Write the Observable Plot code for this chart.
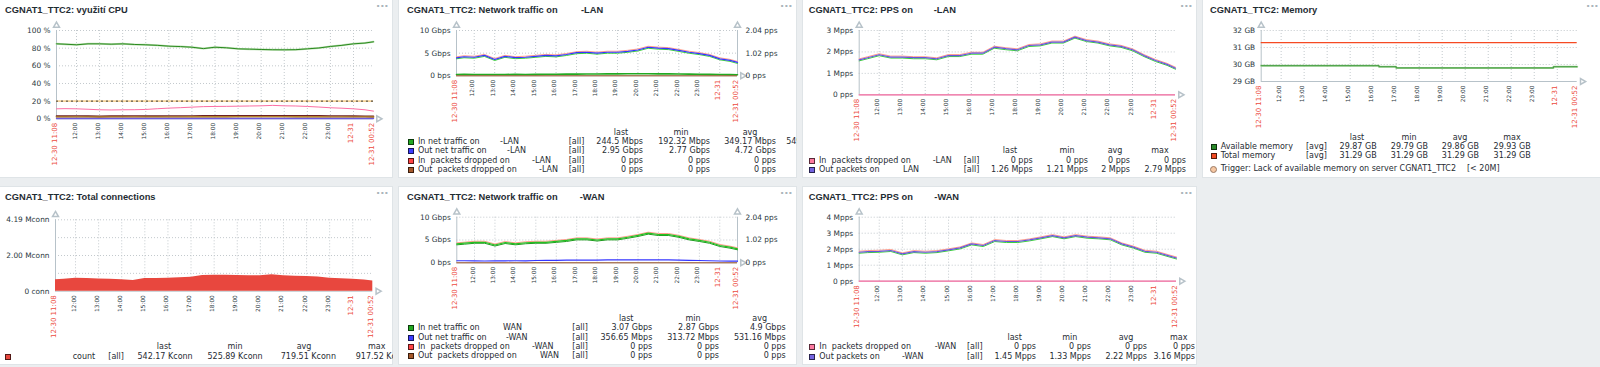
<!DOCTYPE html>
<html><head><meta charset="utf-8">
<script src="https://cdn.jsdelivr.net/npm/d3@7"></script>
<script src="https://cdn.jsdelivr.net/npm/@observablehq/plot@0.6"></script>
<style>
html,body{margin:0;padding:0;}
body{width:1600px;height:367px;background:#ebeef0;position:relative;overflow:hidden;font-family:"DejaVu Sans",sans-serif;}
.panel{position:absolute;background:#fff;overflow:hidden;box-shadow:inset 0 0 0 1px #dfe4e7;}
.panel svg{position:absolute;left:0;top:0;}
.t{position:absolute;white-space:pre;line-height:10px;height:10px;color:#1f2c33;z-index:2;}
.title{position:absolute;font-family:"Liberation Sans",Arial,sans-serif;font-weight:bold;font-size:9.3px;color:#1f2c33;white-space:pre;line-height:12px;z-index:2;}
.dots{position:absolute;font-size:11px;font-weight:bold;color:#aab4bb;line-height:10px;z-index:2;}
.sq{position:absolute;width:6px;height:6px;box-sizing:border-box;border:1px solid rgba(0,0,0,0.65);z-index:2;}
.circ{position:absolute;width:7px;height:7px;box-sizing:border-box;border:1px solid #9a7a64;border-radius:50%;background:#f6c7a2;z-index:2;}
</style></head><body>
<script>
// ---------------- DATA ----------------
const sampleTimes = ["12-30 11:08","12-30 11:30","12-30 12:00","12-30 12:30","12-30 13:00","12-30 13:30","12-30 14:00","12-30 14:30","12-30 15:00","12-30 15:30","12-30 16:00","12-30 16:30","12-30 17:00","12-30 17:30","12-30 18:00","12-30 18:30","12-30 19:00","12-30 19:30","12-30 20:00","12-30 20:30","12-30 21:00","12-30 21:30","12-30 22:00","12-30 22:30","12-30 23:00","12-30 23:30","12-31 00:00","12-31 00:30","12-31 00:52"];
const hourTicks = ["12-30 12:00","12-30 13:00","12-30 14:00","12-30 15:00","12-30 16:00","12-30 17:00","12-30 18:00","12-30 19:00","12-30 20:00","12-30 21:00","12-30 22:00","12-30 23:00","12-31 00:00"];
const hourLabels = ["12:00","13:00","14:00","15:00","16:00","17:00","18:00","19:00","20:00","21:00","22:00","23:00"];
const redTicks = ["12-30 11:08","12-31 00:00","12-31 00:52"];
const redLabels = ["12-30 11:08","12-31","12-31 00:52"];

// CPU (%)
const cpuIdle   = [84.9,84.5,83.8,84.9,84.9,84.5,84.9,84.2,83.8,83.2,82.3,81.8,81.1,79.5,81.1,80.4,79.2,78.9,78.5,78.2,78.1,78.3,79.2,80.2,81.9,83.2,84.9,85.8,87.2];
const cpuUser   = [11.3,11.5,11.3,10.8,10.2,10.0,10.2,10.3,10.6,11.4,12.1,12.6,13.2,13.8,14.0,14.1,14.3,14.5,14.7,15.2,14.7,14.5,14.0,13.3,12.5,12.0,11.3,10.2,8.7];
const cpuSystem = [3.0,3.0,3.1,3.0,2.9,3.0,3.0,3.1,3.0,3.0,3.1,3.2,3.2,3.3,3.3,3.3,3.4,3.4,3.4,3.5,3.4,3.4,3.3,3.3,3.2,3.1,3.0,2.9,2.8];
const cpuNice   = [2.0,2.0,2.1,2.0,1.9,2.0,2.0,2.1,2.0,2.0,2.1,2.1,2.2,2.2,2.2,2.2,2.3,2.3,2.3,2.3,2.3,2.2,2.2,2.2,2.1,2.1,2.0,2.0,1.9];
const cpuSteal  = [0.3,0.3,0.3,0.3,0.3,0.3,0.3,0.3,0.3,0.3,0.3,0.3,0.3,0.3,0.3,0.3,0.3,0.3,0.3,0.3,0.3,0.3,0.3,0.3,0.3,0.3,0.3,0.3,0.3];
const cpuTrigger = 20;
const cpuTicks = [0,20,40,60,80,100];
const cpuTickLabels = ["0 %","20 %","40 %","60 %","80 %","100 %"];

// LAN traffic (Gbps)
const lanOut = [3.97,4.2,4.1,4.5,3.6,4.3,4.0,4.1,4.3,4.5,4.4,4.7,5.1,5.2,5.0,5.2,5.2,5.4,5.7,6.3,6.1,6.0,5.6,5.2,4.9,4.5,3.75,3.4,2.95];
const lanIn  = [0.30,0.31,0.29,0.30,0.28,0.30,0.31,0.30,0.32,0.33,0.34,0.36,0.38,0.40,0.41,0.42,0.43,0.44,0.44,0.45,0.43,0.42,0.40,0.37,0.34,0.31,0.28,0.26,0.24];
const lanDropped = 0;
const trafficTicks = [0,5,10];
const trafficTickLabels = ["0 bps","5 Gbps","10 Gbps"];
const trafficRightLabels = ["0 pps","1.02 pps","2.04 pps"];
const lanNames = ["In net traffic on","Out net traffic on","In  packets dropped on","Out  packets dropped on"];
const lanSuffix = ["-LAN","-LAN","-LAN","-LAN"];
const lanStats = [["244.5 Mbps","192.32 Mbps","349.17 Mbps","549.38 Mbps"],["2.95 Gbps","2.77 Gbps","4.72 Gbps"],["0 pps","0 pps","0 pps"],["0 pps","0 pps","0 pps"]];

// LAN PPS (Mpps)
const lanPpsOut = [1.63,1.73,1.87,1.76,1.76,1.73,1.73,1.68,1.83,1.83,1.94,1.94,2.22,2.15,2.1,2.3,2.33,2.46,2.46,2.69,2.53,2.46,2.33,2.26,2.1,1.83,1.6,1.42,1.24];
const lanPpsTicks = [0,1,2,3];
const lanPpsTickLabels = ["0 pps","1 Mpps","2 Mpps","3 Mpps"];
const lanPpsNames = ["In  packets dropped on","Out packets on"];
const lanPpsSuffix = ["-LAN","LAN"];
const lanPpsStats = [["0 pps","0 pps","0 pps","0 pps"],["1.26 Mpps","1.21 Mpps","2 Mpps","2.79 Mpps"]];

// Memory (GB)
const memTimes = ["12-30 11:08","12-30 16:15","12-30 17:00","12-30 23:50","12-31 00:52"];
const memAvail = [29.93,29.87,29.80,29.87,29.87];
const memTotal = 31.29;
const memTicks = [29,30,31,32];
const memTickLabels = ["29 GB","30 GB","31 GB","32 GB"];
const memNames = ["Available memory","Total memory"];
const memStats = [["29.87 GB","29.79 GB","29.86 GB","29.93 GB"],["31.29 GB","31.29 GB","31.29 GB","31.29 GB"]];

// Connections (Kconn)
const connCount = [666,700,760,740,720,700,670,630,740,750,760,790,820,920,940,930,920,910,900,960,900,880,860,830,760,730,700,660,600];
const connTicks = [0,2095,4190];
const connTickLabels = ["0 conn","2.00 Mconn","4.19 Mconn"];
const connGrid = [1047.5,2095,3142.5,4190];
const connStats = ["542.17 Kconn","525.89 Kconn","719.51 Kconn","917.52 Kconn"];

// WAN traffic (Gbps)
const wanIn  = [4.16,4.3,4.5,4.5,3.9,4.45,4.16,4.4,4.5,4.5,4.7,4.9,5.25,5.25,5.0,5.25,5.25,5.6,6.0,6.5,6.2,6.2,5.8,5.25,4.9,4.5,3.8,3.43,3.07];
const wanOut = [0.45,0.45,0.44,0.40,0.42,0.44,0.45,0.44,0.50,0.52,0.55,0.57,0.58,0.60,0.60,0.62,0.63,0.63,0.64,0.65,0.63,0.62,0.60,0.55,0.50,0.45,0.40,0.37,0.36];
const wanNames = ["In net traffic on","Out net traffic on","In  packets dropped on","Out  packets dropped on"];
const wanSuffix = ["WAN","-WAN","-WAN","WAN"];
const wanStats = [["3.07 Gbps","2.87 Gbps","4.9 Gbps"],["356.65 Mbps","313.72 Mbps","531.16 Mbps"],["0 pps","0 pps","0 pps"],["0 pps","0 pps","0 pps"]];

// WAN PPS (Mpps)
const wanPpsOut = [1.81,1.85,1.87,1.92,1.71,1.85,1.81,1.85,1.96,2.08,2.33,2.23,2.54,2.48,2.48,2.58,2.71,2.85,2.71,2.85,2.75,2.71,2.65,2.33,2.13,1.87,1.81,1.6,1.45];
const wanPpsTicks = [0,1,2,3,4];
const wanPpsTickLabels = ["0 pps","1 Mpps","2 Mpps","3 Mpps","4 Mpps"];
const wanPpsNames = ["In  packets dropped on","Out packets on"];
const wanPpsSuffix = ["-WAN","-WAN"];
const wanPpsStats = [["0 pps","0 pps","0 pps","0 pps"],["1.45 Mpps","1.33 Mpps","2.22 Mpps","3.16 Mpps"]];

const statHeads = ["last","min","avg","max"];

// ---------------- RENDER ----------------
const parse = d3.utcParse("%m-%d %H:%M");
const T = sampleTimes.map(parse);
const t0 = parse(redTicks[0]), t1 = parse(redTicks[2]);
const hours = hourTicks.map(parse);
const reds = redTicks.map(parse);
const series = arr => T.map((t,i)=>({t, v: arr[i]}));

const AX = "#b7c2c9", GRID = "#c3c9cd";

function makePanel(p){
  const el = document.createElement("div");
  el.className = "panel";
  Object.assign(el.style,{left:p.x+"px",top:p.y+"px",width:p.w+"px",height:p.h+"px"});
  document.body.appendChild(el);
  return el;
}
function txt(el,p,str,x,y,opt={}){
  const d=document.createElement("div");
  d.className="t"; d.textContent=str;
  d.style.fontSize=(opt.size||8)+"px";
  if(opt.color) d.style.color=opt.color;
  d.style.top=(y-p.y-5)+"px";
  if(opt.align==="right"){const w=opt.w||70;d.style.left=(x-p.x-w)+"px";d.style.width=w+"px";d.style.textAlign="right";}
  else if(opt.align==="center"){d.style.left=(x-p.x-20)+"px";d.style.width="40px";d.style.textAlign="center";}
  else d.style.left=(x-p.x)+"px";
  el.appendChild(d);
}
function title(el,p,str,x,y,suffix,sx){
  const d=document.createElement("div"); d.className="title"; d.textContent=str;
  d.style.left=(x-p.x)+"px"; d.style.top=(y-p.y-6)+"px"; el.appendChild(d);
  if(suffix){const s=document.createElement("div"); s.className="title"; s.textContent=suffix;
    s.style.left=(sx-p.x)+"px"; s.style.top=(y-p.y-6)+"px"; el.appendChild(s);}
  const m=document.createElement("div"); m.className="dots"; m.textContent="···";
  m.style.left=(p.w-17)+"px"; m.style.top="3px"; el.appendChild(m);
}
function square(el,p,x,y,color){
  const s=document.createElement("div"); s.className="sq"; s.style.background=color;
  s.style.left=(x-p.x)+"px"; s.style.top=(y-p.y-3)+"px"; el.appendChild(s);
}
function legend(el,p,L){
  statHeads.forEach((h,i)=>{ if(L.heads[i]!=null) txt(el,p,h,L.heads[i],L.hy,{align:"center"}); });
  L.rows.forEach((y,r)=>{
    square(el,p,L.sqX,y,L.colors[r]);
    txt(el,p,L.names[r],L.nameX,y);
    if(L.sufs && L.sufs[r]) txt(el,p,L.sufs[r],L.sufX[r],y);
    txt(el,p,L.tag,L.tagX,y);
    L.stats[r].forEach((v,i)=>txt(el,p,v,L.valR[i],y,{align:"right",w:i===3&&L.lastW?L.lastW:70}));
  });
}

function chart(el,p,c){
  const ml=c.l-p.x, mr=p.x+p.w-c.r, mt=c.t-p.y, mb=p.y+p.h-c.b;
  const [y0,y1]=c.yDomain;
  const marks=[
    Plot.ruleX(hours,{stroke:GRID,strokeDasharray:"1,2"}),
    Plot.ruleY(c.gridY,{stroke:GRID,strokeDasharray:"1,2"}),
    Plot.ruleX([t0],{y1:y0,y2:y1,stroke:AX}),
    Plot.ruleY([y0],{stroke:AX}),
    Plot.dot([{x:t0,y:y1}],{x:"x",y:"y",symbol:"triangle",r:2.2,stroke:AX,fill:"white",dy:-5}),
    Plot.dot([{x:t1,y:y0}],{x:"x",y:"y",symbol:"triangle",r:2.2,stroke:AX,fill:"white",dx:5,rotate:90}),
  ];
  if(c.right){
    marks.push(Plot.ruleX([t1],{y1:y0,y2:y1,stroke:AX}));
    marks.push(Plot.dot([{x:t1,y:y1}],{x:"x",y:"y",symbol:"triangle",r:2.2,stroke:AX,fill:"white",dy:-5}));
  }
  marks.push(...c.marks);
  marks.push(Plot.text(c.yTicks,{y:d=>d,text:(d,i)=>c.yLabels[i],frameAnchor:"left",textAnchor:"end",dx:-6,fontSize:7.4,fill:"#2b3840"}));
  if(c.right) marks.push(Plot.text(c.yTicks,{y:d=>d,text:(d,i)=>c.right[i],frameAnchor:"right",textAnchor:"start",dx:8,fontSize:7.4,fill:"#2b3840"}));
  marks.push(Plot.text(hours.slice(0,-1),{x:d=>d,text:(d,i)=>hourLabels[i],frameAnchor:"bottom",rotate:-90,textAnchor:"end",dy:4,fontSize:5.8,fill:"#2b3840"}));
  marks.push(Plot.text(reds,{x:d=>d,text:(d,i)=>redLabels[i],frameAnchor:"bottom",rotate:-90,textAnchor:"end",dy:4,fontSize:7,fill:"#ec4a40"}));
  const svg=Plot.plot({width:p.w,height:p.h,marginLeft:ml,marginRight:mr,marginTop:mt,marginBottom:mb,
    x:{type:"utc",domain:[t0,t1],axis:null},y:{domain:c.yDomain,axis:null},
    style:{background:"transparent",fontFamily:"DejaVu Sans",overflow:"visible"},marks});
  el.appendChild(svg);
}
function fringe(data,main,opt={}){
  return [
    Plot.line(data,{x:"t",y:"v",stroke:opt.up||"#ff9c8c",strokeWidth:1,dy:-1}),
    Plot.line(data,{x:"t",y:"v",stroke:opt.down||"#3ad13a",strokeWidth:1,dy:1}),
    Plot.line(data,{x:"t",y:"v",stroke:main,strokeWidth:1.2})
  ];
}

const P = {
  cpu:{x:-3,y:-1,w:396,h:179},
  lan:{x:398,y:-1,w:399,h:179},
  lanPps:{x:802,y:-1,w:395,h:179},
  mem:{x:1202,y:-1,w:401,h:179},
  conn:{x:-3,y:186,w:396,h:179},
  wan:{x:398,y:186,w:399,h:179},
  wanPps:{x:802,y:186,w:395,h:179}
};

// CPU
{const p=P.cpu, el=makePanel(p);
 title(el,p,"CGNAT1_TTC2: využití CPU",5,10);
 chart(el,p,{l:56,r:373,t:30,b:118.3,yDomain:[0,100],yTicks:cpuTicks,yLabels:cpuTickLabels,gridY:[20,40,60,80,100],
  marks:[
   Plot.ruleY([cpuTrigger],{stroke:"#f7d49a",strokeWidth:1.6}),
   Plot.ruleY([cpuTrigger],{stroke:"#3a3a3a",strokeDasharray:"2,3"}),
   Plot.line(series(cpuIdle),{x:"t",y:"v",stroke:"#b9deb0",strokeWidth:2}),
   Plot.line(series(cpuIdle),{x:"t",y:"v",stroke:"#2a8a1e",strokeWidth:1}),
   Plot.line(series(cpuUser),{x:"t",y:"v",stroke:"#fc6ea3",strokeWidth:1}),
   Plot.line(series(cpuSystem),{x:"t",y:"v",stroke:"#6b2024",strokeWidth:1.6}),
   Plot.line(series(cpuNice),{x:"t",y:"v",stroke:"#b8862a",strokeWidth:1.6}),
   Plot.line(series(cpuSteal),{x:"t",y:"v",stroke:"#6c59dc",strokeWidth:1.4})
  ]});
}
// LAN traffic
{const p=P.lan, el=makePanel(p);
 title(el,p,"CGNAT1_TTC2: Network traffic on",407,10,"-LAN",581);
 chart(el,p,{l:456,r:737,t:30,b:75.3,yDomain:[0,10],yTicks:trafficTicks,yLabels:trafficTickLabels,right:trafficRightLabels,gridY:[5,10],
  marks:[
   ...fringe(series(lanOut),"#3535ff"),
   Plot.line(series(lanIn),{x:"t",y:"v",stroke:"#22aa22",strokeWidth:1.6}),
   Plot.ruleY([lanDropped],{stroke:"#a0582a",strokeWidth:1})
  ]});
 legend(el,p,{hy:132.7,heads:[621,681,750,null],rows:[141.7,151,161,170.3],sqX:408,
  colors:["#22a822","#3d3dff","#ff4444","#a5582a"],nameX:418,names:lanNames,sufs:lanSuffix,sufX:[500,507,532,539],
  tag:"[all]",tagX:568.7,valR:[643,710,776,838],lastW:56,stats:lanStats});
}
// LAN PPS
{const p=P.lanPps, el=makePanel(p);
 title(el,p,"CGNAT1_TTC2: PPS on",808.7,10,"-LAN",933.7);
 chart(el,p,{l:858.7,r:1175,t:30,b:94.3,yDomain:[0,3],yTicks:lanPpsTicks,yLabels:lanPpsTickLabels,gridY:[1,2,3],
  marks:[
   ...fringe(series(lanPpsOut),"#6655dd"),
   Plot.ruleY([0],{stroke:"#fc6ea3",strokeWidth:1.2})
  ]});
 legend(el,p,{hy:150.7,heads:[1010,1067,1115,1160],rows:[161,170.3],sqX:808.5,
  colors:["#fc7aa0","#7464e0"],nameX:819,names:lanPpsNames,sufs:lanPpsSuffix,sufX:[932.7,903],
  tag:"[all]",tagX:963.7,valR:[1032.7,1088,1130,1186],lastW:44,stats:lanPpsStats});
}
// Memory
{const p=P.mem, el=makePanel(p);
 title(el,p,"CGNAT1_TTC2: Memory",1210,10);
 const memData=memTimes.map((t,i)=>({t:parse(t),v:memAvail[i]}));
 chart(el,p,{l:1260.7,r:1576.7,t:30,b:81,yDomain:[29,32],yTicks:memTicks,yLabels:memTickLabels,gridY:[30,31,32],
  marks:[
   Plot.ruleY([memTotal],{stroke:"#f54a22",strokeWidth:1.2}),
   Plot.line(memData,{x:"t",y:"v",curve:"step-after",stroke:"#9fd494",strokeWidth:2}),
   Plot.line(memData,{x:"t",y:"v",curve:"step-after",stroke:"#2a8a2a",strokeWidth:0.8})
  ]});
 legend(el,p,{hy:137.7,heads:[1357,1409,1460,1512],rows:[147,156.3],sqX:1210.7,
  colors:["#2a8a2a","#f04a22"],nameX:1220.7,names:memNames,tag:"[avg]",tagX:1306,valR:[1376.7,1428,1479,1530.7],stats:memStats});
 const c=document.createElement("div"); c.className="circ"; c.style.left=(1210-p.x)+"px"; c.style.top=(169.3-p.y-3.5)+"px"; el.appendChild(c);
 txt(el,p,"Trigger: Lack of available memory on server CGNAT1_TTC2",1220.7,169.3);
 txt(el,p,"[< 20M]",1467,169.3);
}
// Connections
{const p=P.conn, el=makePanel(p);
 title(el,p,"CGNAT1_TTC2: Total connections",5,196.7);
 chart(el,p,{l:55,r:372.3,t:219.3,b:290.7,yDomain:[0,4190],yTicks:connTicks,yLabels:connTickLabels,gridY:connGrid,
  marks:[ Plot.areaY(series(connCount),{x:"t",y:"v",fill:"#e8473e"}) ]});
 legend(el,p,{hy:346.7,heads:[164,235,304,376.7],rows:[356.7],sqX:5,colors:["#e8473e"],nameX:72.7,names:["count"],
  tag:"[all]",tagX:108.3,valR:[192.7,262.7,336,411],lastW:60,stats:[connStats]});
}
// WAN traffic
{const p=P.wan, el=makePanel(p);
 title(el,p,"CGNAT1_TTC2: Network traffic on",407,196.7,"-WAN",579.7);
 chart(el,p,{l:456.3,r:737,t:216.7,b:262.3,yDomain:[0,10],yTicks:trafficTicks,yLabels:trafficTickLabels,right:trafficRightLabels,gridY:[5,10],
  marks:[
   ...fringe(series(wanIn),"#22c022",{down:"#1e9a1e"}),
   Plot.line(series(wanOut),{x:"t",y:"v",stroke:"#3535ff",strokeWidth:1.2}),
   Plot.ruleY([0],{stroke:"#a0582a",strokeWidth:1})
  ]});
 legend(el,p,{hy:319.3,heads:[626.3,693,759.7,null],rows:[328.3,337.7,347,356.3],sqX:407.5,
  colors:["#22a822","#3d3dff","#ff4444","#a5582a"],nameX:418,names:wanNames,sufs:wanSuffix,sufX:[503,506,532,540],
  tag:"[all]",tagX:572.3,valR:[652.3,719,785.7],stats:wanStats});
}
// WAN PPS
{const p=P.wanPps, el=makePanel(p);
 title(el,p,"CGNAT1_TTC2: PPS on",808.7,196.7,"-WAN",934.3);
 chart(el,p,{l:858.7,r:1176,t:216.7,b:280.7,yDomain:[0,4],yTicks:wanPpsTicks,yLabels:wanPpsTickLabels,gridY:[1,2,3,4],
  marks:[
   ...fringe(series(wanPpsOut),"#6655dd"),
   Plot.ruleY([0],{stroke:"#fc6ea3",strokeWidth:1.2})
  ]});
 legend(el,p,{hy:337.7,heads:[1014.7,1069.7,1126,1178.7],rows:[347.3,356.7],sqX:808.7,
  colors:["#fc7aa0","#7464e0"],nameX:819.3,names:wanPpsNames,sufs:wanPpsSuffix,sufX:[934.7,902],
  tag:"[all]",tagX:967,valR:[1036,1091,1147,1195],lastW:44,stats:wanPpsStats});
}
</script></body></html>
